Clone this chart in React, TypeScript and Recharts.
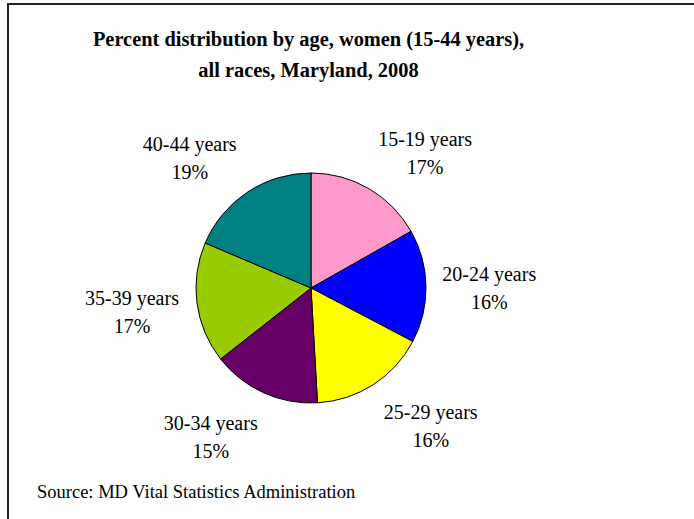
import React from 'react';
import { PieChart, Pie, Cell } from 'recharts';

const AGE_GROUPS = ['15-19 years', '20-24 years', '25-29 years', '30-34 years', '35-39 years', '40-44 years'];
const SHARES = [16.8, 15.9, 16.4, 15.3, 17.0, 18.6];
const COLORS = ['#ff99cc', '#0000ff', '#ffff00', '#660066', '#99cc00', '#008080'];

const data = AGE_GROUPS.map((name, i) => ({ name, value: SHARES[i] }));

const RAD = Math.PI / 180;
const FONT = '"Liberation Serif", "Times New Roman", serif';

// label block sits out along the slice's mid angle, pushed sideways a bit
const renderLabel = (props: any) => {
  const { cx, cy, midAngle, index, value } = props;
  const r = 160;
  const c = Math.cos(-midAngle * RAD);
  const s = Math.sin(-midAngle * RAD);
  const push = 18 + 18 * Math.abs(s);
  const x = cx + r * c + (c >= 0 ? push : -push);
  const y = cy + r * s;
  return (
    <text x={x} y={y} textAnchor="middle" fontFamily={FONT} fontSize={20} fill="#000">
      <tspan x={x} dy={-4}>{AGE_GROUPS[index]}</tspan>
      <tspan x={x} dy={28}>{Math.round(value)}%</tspan>
    </text>
  );
};

const App: React.FC = () => {
  return (
    <div style={{ position: 'absolute', left: 0, top: 0, width: 694, height: 519, background: '#fff', overflow: 'hidden' }}>
      <div
        style={{
          position: 'absolute', left: 7, top: 3, width: 700, height: 530,
          borderLeft: '2px solid #222', borderTop: '2px solid #222', boxSizing: 'border-box',
        }}
      />
      <div
        style={{
          position: 'absolute', left: 0, top: 24, width: 617, textAlign: 'center',
          fontFamily: FONT, fontWeight: 'bold', fontSize: 20.4, lineHeight: '31px', color: '#000',
        }}
      >
        Percent distribution by age, women (15-44 years),<br />all races, Maryland, 2008
      </div>
      <PieChart
        width={694}
        height={519}
        margin={{ top: 0, right: 0, bottom: 0, left: 0 }}
        style={{ position: 'absolute', left: 0, top: 0 }}
      >
        <Pie
          data={data}
          dataKey="value"
          cx={311}
          cy={288}
          outerRadius={115}
          startAngle={90}
          endAngle={-270}
          stroke="#000"
          strokeWidth={1}
          label={renderLabel}
          labelLine={false}
          isAnimationActive={false}
        >
          {data.map((d, i) => <Cell key={d.name} fill={COLORS[i]} />)}
        </Pie>
      </PieChart>
      <div
        style={{
          position: 'absolute', left: 37, top: 482, fontFamily: FONT, fontSize: 18.5, lineHeight: '21px', color: '#000', whiteSpace: 'nowrap',
        }}
      >
        Source: MD Vital Statistics Administration
      </div>
    </div>
  );
};

export default App;
